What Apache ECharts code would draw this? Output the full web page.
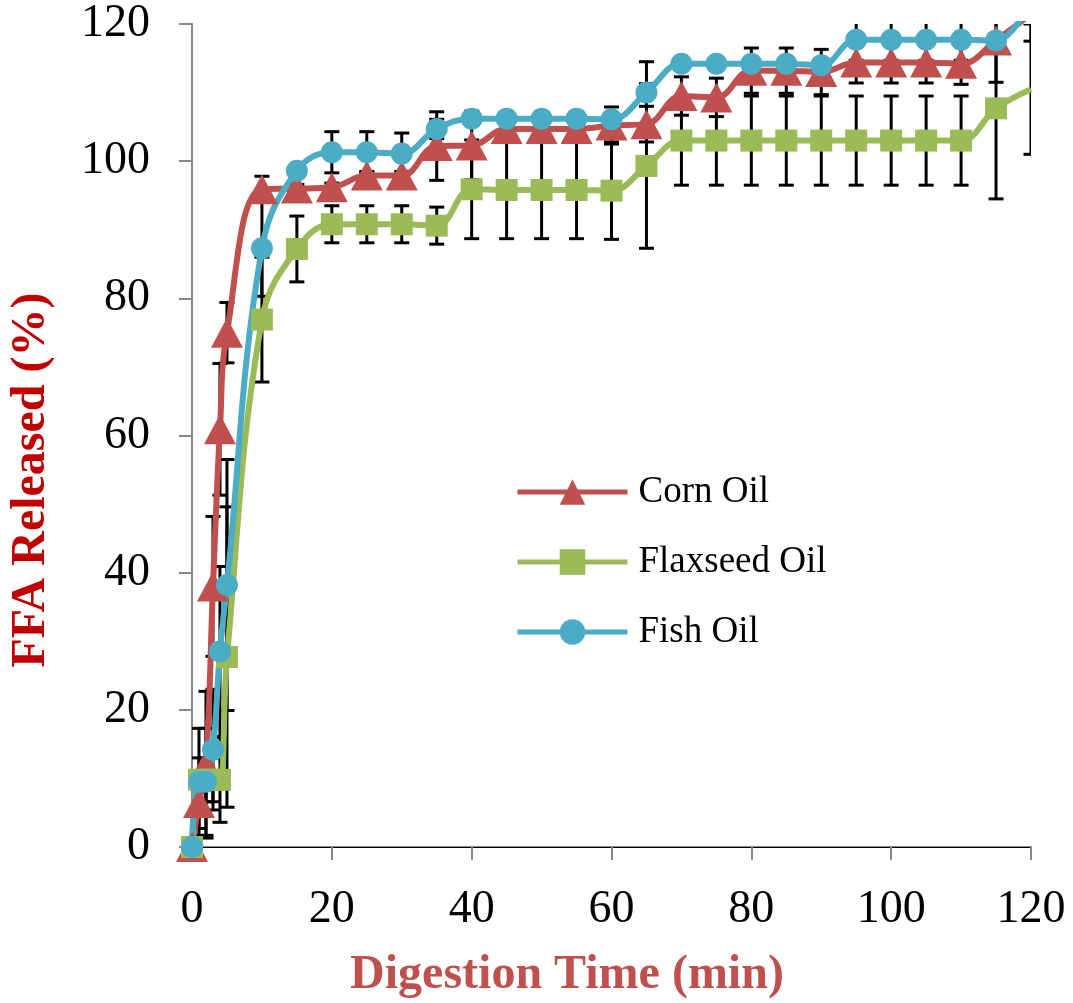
<!DOCTYPE html>
<html>
<head>
<meta charset="utf-8">
<script src="https://cdn.jsdelivr.net/npm/echarts@6/dist/echarts.min.js"></script>
<style>
html,body{margin:0;padding:0;background:#fff;}
#chart{width:1073px;height:1003px;}
</style>
</head>
<body>
<div id="chart"></div>
<script>
// Digestion time (min)
const times = [0,1,2,3,4,5,10,15,20,25,30,35,40,45,50,55,60,65,70,75,80,85,90,95,100,105,110,115,120];
// FFA released (%)
const cornOil     = [0,6.4,12.0,38.0,60.9,75.0,95.9,96.0,96.2,97.9,97.9,102.2,102.3,104.7,104.7,104.7,105.2,105.4,109.5,109.3,113.2,113.2,113.0,114.4,114.4,114.4,114.2,117.6,121.5];
const flaxseedOil = [0,9.8,9.8,9.8,9.8,27.7,76.9,87.2,90.8,90.8,90.8,90.6,95.9,95.8,95.8,95.8,95.7,99.3,103.0,103.0,103.0,103.0,103.0,103.0,103.0,103.0,103.0,107.7,110.5];
const fishOil     = [0,9.5,9.5,14.2,28.5,38.2,87.3,98.6,101.3,101.3,101.1,104.7,106.2,106.2,106.2,106.2,106.1,110.0,114.2,114.2,114.2,114.2,114.0,117.7,117.7,117.7,117.7,117.6,123.5];
// Standard deviations (error bars)
const cornErr     = [0,3.7,10.7,10.2,9.6,4.4,1.9,0.6,0.6,0.6,0.6,5.0,5.0,0.8,0.8,0.8,2.7,2.6,2.8,2.8,3.3,3.3,3.3,3.0,3.0,3.0,3.0,6.1,4.0];
const flaxseedErr = [0,3.2,3.2,3.2,6.2,21.9,9.1,4.8,2.7,2.7,2.7,2.7,7.2,7.1,7.1,7.1,7.1,12.0,6.5,6.5,6.5,6.5,6.5,6.5,6.5,6.5,6.5,13.2,9.5];
const fishErr     = [0,7.8,7.8,8.8,12.4,18.3,7.0,0.8,3.0,3.0,3.0,1.4,0.8,0.8,0.8,0.8,0.8,4.5,0.8,0.8,0.8,0.8,0.8,3.0,3.0,3.0,3.0,1.0,3.0];
const seriesNames = ['Corn Oil','Flaxseed Oil','Fish Oil'];

const colors = ['#C0504D','#9BBB59','#4BACC6'];
const serif = '"Liberation Serif","Times New Roman",serif';

// last point sits on the plot edge: line reaches it, marker is not shown
function pairs(vals){
  return times.map((t,i)=> i === times.length-1 ? {value:[t, vals[i]], symbol:'none'} : [t, vals[i]]);
}

function errSeries(name, vals, errs){
  return {
    type:'custom', name: name + ' SD', silent:true, z:1, clip:true,
    data: times.map((t,i)=>[t, vals[i]-errs[i], vals[i]+errs[i]]),
    encode:{x:0, y:[1,2]},
    renderItem:function(params, api){
      const x = api.value(0);
      const lo = api.coord([x, api.value(1)]);
      const hi = api.coord([x, api.value(2)]);
      const w = 7.5;
      const st = {stroke:'#000', lineWidth:3};
      return {type:'group', children:[
        {type:'line', shape:{x1:lo[0],y1:lo[1],x2:hi[0],y2:hi[1]}, style:st},
        {type:'line', shape:{x1:lo[0]-w,y1:lo[1],x2:lo[0]+w,y2:lo[1]}, style:st},
        {type:'line', shape:{x1:hi[0]-w,y1:hi[1],x2:hi[0]+w,y2:hi[1]}, style:st}
      ]};
    }
  };
}

function lineSeries(name, vals, color, symbol, size){
  return {
    type:'line', name:name, data:pairs(vals), z:3,
    smooth:0.4, symbol:symbol, symbolSize:size, showAllSymbol:true,
    lineStyle:{color:color, width:6},
    itemStyle:{color:color},
    emphasis:{disabled:true}, clip:true
  };
}

const chart = echarts.init(document.getElementById('chart'), null, {renderer:'canvas'});
chart.setOption({
  animation:false,
  backgroundColor:'#fff',
  grid:{left:192, right:42, top:24, bottom:156, containLabel:false},
  xAxis:[{
    type:'value', min:0, max:120, interval:20,
    axisLine:{show:true, onZero:false, lineStyle:{color:'#888', width:2}},
    axisTick:{show:true, length:13, lineStyle:{color:'#888', width:2}},
    axisLabel:{color:'#000', fontFamily:serif, fontSize:46, margin:40},
    splitLine:{show:false}
  },{
    type:'value', min:0, max:120, position:'top',
    axisLine:{show:true, lineStyle:{color:'#000', width:1}},
    axisTick:{show:false}, axisLabel:{show:false}, splitLine:{show:false}
  }],
  yAxis:[{
    type:'value', min:0, max:120, interval:20,
    axisLine:{show:true, onZero:false, lineStyle:{color:'#888', width:2}},
    axisTick:{show:true, length:13, lineStyle:{color:'#888', width:2}},
    axisLabel:{color:'#000', fontFamily:serif, fontSize:46, margin:42},
    splitLine:{show:false}
  },{
    type:'value', min:0, max:120, position:'right',
    axisLine:{show:true, lineStyle:{color:'#888', width:1}},
    axisTick:{show:false}, axisLabel:{show:false}, splitLine:{show:false}
  }],
  legend:{
    data:seriesNames, orient:'vertical', left:510, top:467,
    itemWidth:110, itemHeight:32, itemGap:30,
    lineStyle:{width:5},
    textStyle:{fontFamily:serif, fontSize:37, color:'#000', lineHeight:40, padding:[0,0,0,6]},
    selectedMode:false
  },
  graphic:[
    {type:'text', x:567, y:976, style:{text:'Digestion Time (min)', font:'bold 48px ' + serif, fill:'#C0504D', textAlign:'center', textVerticalAlign:'middle'}},
    {type:'text', x:32, y:480, rotation:Math.PI/2, style:{text:'FFA Released (%)', font:'bold 48px ' + serif, fill:'#C00000', textAlign:'center', textVerticalAlign:'middle'}}
  ],
  series:[
    errSeries(seriesNames[0], cornOil, cornErr),
    errSeries(seriesNames[1], flaxseedOil, flaxseedErr),
    errSeries(seriesNames[2], fishOil, fishErr),
    lineSeries(seriesNames[0], cornOil, colors[0], 'triangle', [32,30]),
    lineSeries(seriesNames[1], flaxseedOil, colors[1], 'rect', 22),
    lineSeries(seriesNames[2], fishOil, colors[2], 'circle', 22)
  ]
});
</script>
</body>
</html>
